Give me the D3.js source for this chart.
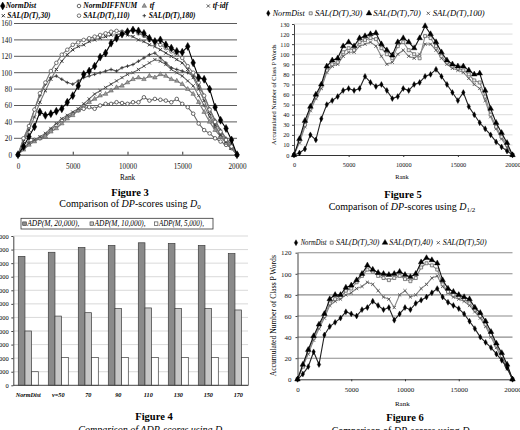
<!DOCTYPE html>
<html>
<head>
<meta charset="utf-8">
<script src="https://cdn.jsdelivr.net/npm/d3@7"></script>
<style>
  html, body { margin: 0; padding: 0; background: #fff; }
  svg { display: block; }
</style>
</head>
<body>
<svg id="page" width="520" height="430"></svg>
<script>
// ---------- data ----------
const RANKS = [0,500,1000,1500,2000,2500,3000,3500,4000,4500,5000,5500,6000,6500,7000,7500,8000,8500,9000,9500,
  10000,10500,11000,11500,12000,12500,13000,13500,14000,14500,15000,15500,16000,16500,17000,17500,18000,18500,19000,19500,20000];

// Figure 3 (D0)
const F3_NORMDIST    = [0,10,22,34,52,48,50,53,56,64,72,84,98,102,108,119,124,136,142,147,150,152,151,148,142,138,140,134,130,126,125,132,112,94,92,80,58,42,32,18,0];
const F3_NORMDIFFNUM = [0,8,14,18,20,24,30,36,42,46,50,54,56,58,56,60,62,62,64,63,62,64,64,70,66,68,67,66,64,68,62,58,50,38,30,26,20,16,12,8,0];
const F3_TF          = [0,6,12,16,20,22,28,32,38,44,48,54,60,64,68,72,74,78,82,84,88,92,94,92,96,94,98,96,92,90,86,80,74,64,52,40,30,22,14,8,0];
const F3_TFIDF       = [0,8,14,18,22,26,32,38,44,48,52,56,62,68,74,78,82,86,90,94,98,100,104,108,112,116,114,110,104,100,96,90,84,72,60,46,34,24,16,8,0];
const F3_SAL30       = [0,16,30,46,64,78,92,104,114,122,128,132,134,138,140,142,144,146,146,148,146,144,140,138,134,132,128,124,120,116,112,104,94,80,66,50,36,24,16,8,0];
const F3_SAL110      = [0,20,35,55,75,88,102,112,122,128,134,137,140,142,144,146,148,150,151,150,150,152,148,145,140,138,134,130,126,122,118,108,100,88,72,55,40,28,18,10,0];
const F3_SAL180      = [0,18,35,55,72,86,94,96,92,88,86,90,94,96,98,100,102,104,102,106,108,110,114,118,122,124,118,112,106,104,102,100,96,84,72,56,42,30,20,12,0];

// Figure 5 (D1/2)
const F5_NORMDIST = [0,2,6,20,15,36,50,54,58,64,66,64,66,78,72,68,70,64,56,58,66,64,70,72,78,80,85,78,70,62,54,62,48,40,32,26,20,13,8,4,0];
const F5_SAL30    = [0,14,30,46,58,68,84,90,92,102,106,104,112,114,116,115,106,100,96,108,112,104,100,96,118,116,108,98,92,88,86,84,80,74,72,58,40,28,18,10,0];
const F5_SAL70    = [0,16,34,48,60,70,88,94,96,108,112,108,116,118,120,121,110,104,99,112,116,112,106,116,128,120,112,102,94,90,88,88,84,80,81,64,46,32,22,12,0];
const F5_SAL100   = [0,12,28,44,56,66,82,88,90,98,102,102,108,110,112,108,98,90,92,100,104,98,96,100,110,110,104,96,90,86,84,82,76,70,66,54,38,26,16,8,0];

// Figure 6 (D1/4)
const F6_NORMDIST = [0,5,12,26,14,42,50,54,58,64,62,60,66,68,74,70,66,68,56,62,68,66,72,75,78,82,86,78,73,70,67,62,55,48,40,35,30,24,18,11,0];
const F6_SAL30    = [0,12,26,39,50,60,72,76,78,84,86,92,98,104,102,98,96,94,96,98,95,93,96,106,110,108,104,90,83,80,78,76,72,66,60,52,42,32,22,12,0];
const F6_SAL40    = [0,14,28,41,52,62,76,80,80,87,89,94,100,108,104,101,100,99,100,102,99,97,100,111,115,113,110,94,86,83,80,78,76,68,63,55,45,34,25,14,0];
const F6_SAL50    = [0,12,24,37,48,58,70,74,76,80,82,86,88,92,90,84,78,76,68,80,84,78,80,86,90,96,98,88,82,78,76,74,70,64,58,50,40,30,20,10,0];

// Figure 4 (ADP bars)
const F4_CATS   = ["NormDist","v=50","70","90","110","130","150","170"];
const ADP_20000 = [9500,9800,10150,10300,10500,10450,10300,9700];
const ADP_10000 = [4000,5100,5350,5650,5700,5650,5650,5550];
const ADP_5000  = [1000,2050,2050,2050,2050,2050,2050,2050];
const F4_TICKS  = [0,1000,2000,3000,4000,5000,6000,7000,8000,9000,10000,11000];

// ---------- helpers ----------
const SERIF = "'Liberation Serif','Times New Roman',serif";
const svg = d3.select("#page").attr("font-family", SERIF);
svg.append("rect").attr("width", 520).attr("height", 430).attr("fill", "#fff");

// stroke-only symbols (own versions so they work on any v7 build)
const symTimes = { draw(p, size) { const r = Math.sqrt(size) / 2; p.moveTo(-r, -r); p.lineTo(r, r); p.moveTo(r, -r); p.lineTo(-r, r); } };
const symPlus  = { draw(p, size) { const r = Math.sqrt(size) / 2; p.moveTo(-r, 0); p.lineTo(r, 0); p.moveTo(0, -r); p.lineTo(0, r); } };

function marker(g, s, cx, cy) {
  return g.append("path")
    .attr("transform", `translate(${cx},${cy})`)
    .attr("d", d3.symbol(s.type, s.size)())
    .attr("fill", s.fill)
    .attr("stroke", s.stroke)
    .attr("stroke-width", s.sw);
}

// caption: "Comparison of <i>DP</i>-scores using <i>D</i><sub>..</sub>"
function caption(cx, y, pre, ital, sub, allItalic) {
  const t = svg.append("text")
    .attr("x", cx).attr("y", y)
    .attr("text-anchor", "middle")
    .attr("font-size", 10)
    .attr("font-style", allItalic ? "italic" : null);
  t.append("tspan").text(pre);
  t.append("tspan").attr("font-style", "italic").text(ital);
  t.append("tspan").text("-scores using ");
  t.append("tspan").attr("font-style", "italic").text("D");
  t.append("tspan").attr("font-size", 7).attr("dy", 2).text(sub);
}

function figTitle(cx, y, label) {
  svg.append("text")
    .attr("x", cx).attr("y", y)
    .attr("text-anchor", "middle")
    .attr("font-size", 10.5)
    .attr("font-weight", 700)
    .text(label);
}

// ---------- scatter panels (figures 3, 5, 6) ----------
function scatterPanel(cfg) {
  const g = svg.append("g");
  const x = d3.scaleLinear().domain([0, 20000]).range(cfg.xRange);
  const y = d3.scaleLinear().domain([0, cfg.yMax]).range(cfg.yRange);
  const yTicks = d3.range(0, cfg.yMax + 1, cfg.yStep);

  // horizontal grid
  g.append("g").selectAll("line")
    .data(yTicks.filter(d => d > 0))
    .join("line")
    .attr("x1", cfg.gridX0).attr("x2", cfg.xRange[1])
    .attr("y1", d => y(d)).attr("y2", d => y(d))
    .attr("stroke", cfg.gridColor)
    .attr("stroke-width", cfg.gridWidth);

  // y axis
  const ya = g.append("g")
    .attr("transform", `translate(${cfg.xRange[0]},0)`)
    .call(d3.axisLeft(y).tickValues(yTicks).tickSize(cfg.yTickSize).tickPadding(cfg.yPad).tickSizeOuter(0));
  ya.attr("font-family", SERIF).attr("font-size", cfg.tickFont);
  ya.select(".domain").attr("stroke", cfg.yAxisColor);
  ya.selectAll(".tick line").attr("stroke", cfg.yAxisColor);
  ya.selectAll(".tick text").attr("fill", "#111");

  // x axis
  const xa = g.append("g")
    .attr("transform", `translate(0,${cfg.yRange[0]})`)
    .call(d3.axisBottom(x).tickValues([0, 5000, 10000, 15000, 20000])
      .tickSizeInner(cfg.xTickSize).tickSizeOuter(0).tickPadding(cfg.xPad).tickFormat(d3.format("d")));
  xa.attr("font-family", SERIF).attr("font-size", cfg.tickFont);
  xa.select(".domain").attr("stroke", "#333");
  xa.selectAll(".tick line").attr("stroke", "#333");
  xa.selectAll(".tick text").attr("fill", "#111");

  g.append("text")
    .attr("x", cfg.rank[0]).attr("y", cfg.rank[1])
    .attr("text-anchor", "middle")
    .attr("font-size", cfg.tickFont)
    .text("Rank");

  if (cfg.yTitle) {
    g.append("text")
      .attr("transform", `translate(${cfg.yTitle[0]},${cfg.yTitle[1]}) rotate(-90)`)
      .attr("text-anchor", "middle")
      .attr("font-size", cfg.yTitle[2])
      .text("Accumulated Number of Class P Words");
  }

  // series: thin trace + markers
  const line = d3.line().x((d, i) => x(RANKS[i])).y(d => y(d));
  cfg.series.forEach(s => {
    g.append("path")
      .datum(s.values)
      .attr("d", line)
      .attr("fill", "none")
      .attr("stroke", s.trace)
      .attr("stroke-width", 1.1);
    g.append("g").selectAll("path")
      .data(s.values)
      .join("path")
      .attr("transform", (d, i) => `translate(${x(RANKS[i])},${y(d)})`)
      .attr("d", d3.symbol(s.type, s.size))
      .attr("fill", s.fill)
      .attr("stroke", s.stroke)
      .attr("stroke-width", s.sw);
  });

  // legend
  cfg.legend.forEach(l => {
    const s = cfg.series.find(d => d.name === l.name);
    marker(svg, s, l.mx, l.my);
    svg.append("text")
      .attr("x", l.tx).attr("y", l.my + cfg.legendFont * 0.33)
      .attr("font-size", cfg.legendFont)
      .attr("font-style", "italic")
      .attr("font-weight", cfg.legendBold ? 700 : null)
      .attr("textLength", l.tl || null)
      .attr("lengthAdjust", l.tl ? "spacingAndGlyphs" : null)
      .text(l.name);
  });
}

// Figure 3
scatterPanel({
  xRange: [18, 237], yRange: [154.7, 23.5], yMax: 160, yStep: 20,
  gridX0: 14, gridColor: "#5a5a5a", gridWidth: 1,
  yTickSize: 0, yPad: 6, yAxisColor: "none",
  xTickSize: -3, xPad: 9.3, tickFont: 7.2,
  rank: [127.5, 179.5],
  legendFont: 7.5, legendBold: true,
  series: [
    { name: "NormDIFFNUM",   values: F3_NORMDIFFNUM, type: d3.symbolCircle,  size: 10, fill: "#fff",  stroke: "#444", sw: 0.8, trace: "#666" },
    { name: "tf",            values: F3_TF,          type: d3.symbolTriangle, size: 9, fill: "#999",  stroke: "#555", sw: 0.5, trace: "#777" },
    { name: "tf-idf",        values: F3_TFIDF,       type: symTimes,        size: 10, fill: "none",  stroke: "#444", sw: 0.9, trace: "#777" },
    { name: "SAL(D(T),180)", values: F3_SAL180,      type: symPlus,         size: 12, fill: "none",  stroke: "#333", sw: 0.9, trace: "#666" },
    { name: "SAL(D(T),30)",  values: F3_SAL30,       type: symTimes,        size: 10, fill: "none",  stroke: "#333", sw: 1,   trace: "#777" },
    { name: "SAL(D(T),110)", values: F3_SAL110,      type: d3.symbolCircle, size: 10, fill: "#fff",  stroke: "#555", sw: 0.8, trace: "#777" },
    { name: "NormDist",      values: F3_NORMDIST,    type: d3.symbolDiamond, size: 18, fill: "#000", stroke: "#000", sw: 0.5, trace: "#000" }
  ],
  legend: [
    { name: "NormDist",      mx: 2.7,   my: 6,    tx: 5.7 },
    { name: "NormDIFFNUM",   mx: 79,    my: 6,    tx: 83.3 },
    { name: "tf",            mx: 144.3, my: 6,    tx: 149.7 },
    { name: "tf-idf",        mx: 208.3, my: 6,    tx: 212.7 },
    { name: "SAL(D(T),30)",  mx: 3.3,   my: 15.7, tx: 7.3 },
    { name: "SAL(D(T),110)", mx: 79,    my: 15.7, tx: 83.3 },
    { name: "SAL(D(T),180)", mx: 144.3, my: 15.7, tx: 148.7 }
  ]
});
figTitle(130, 196.3, "Figure 3");
caption(130, 206.5, "Comparison of ", "DP", "0", false);

// Figure 5
scatterPanel({
  xRange: [294, 512.5], yRange: [155, 24], yMax: 130, yStep: 10,
  gridX0: 294, gridColor: "#d2d2d2", gridWidth: 0.8,
  yTickSize: 2, yPad: 2.5, yAxisColor: "#444",
  xTickSize: 2, xPad: 6, tickFont: 6.3,
  rank: [402, 178.5],
  yTitle: [275.5, 94.7, 6.3],
  legendFont: 8.3, legendBold: false,
  series: [
    { name: "SAL(D(T),100)", values: F5_SAL100,   type: symTimes,          size: 10, fill: "none", stroke: "#555", sw: 0.9, trace: "#888" },
    { name: "SAL(D(T),30)",  values: F5_SAL30,    type: d3.symbolSquare,   size: 9,  fill: "#eee", stroke: "#555", sw: 0.7, trace: "#888" },
    { name: "SAL(D(T),70)",  values: F5_SAL70,    type: d3.symbolTriangle, size: 14, fill: "#000", stroke: "#000", sw: 0.4, trace: "#111" },
    { name: "NormDist",      values: F5_NORMDIST, type: d3.symbolDiamond,  size: 10, fill: "#000", stroke: "#000", sw: 0.4, trace: "#222" }
  ],
  legend: [
    { name: "NormDist",      mx: 268.3, my: 13.3, tx: 272.7, tl: 32 },
    { name: "SAL(D(T),30)",  mx: 310.7, my: 13.3, tx: 315,   tl: 47.5 },
    { name: "SAL(D(T),70)",  mx: 369,   my: 13.3, tx: 373.3, tl: 47.5 },
    { name: "SAL(D(T),100)", mx: 428.3, my: 13.3, tx: 432.7, tl: 52 }
  ]
});
figTitle(403, 198.3, "Figure 5");
caption(402, 209.5, "Comparison of ", "DP", "1/2", false);

// Figure 6
scatterPanel({
  xRange: [297.5, 512.5], yRange: [379.3, 252.7], yMax: 120, yStep: 20,
  gridX0: 297.5, gridColor: "#8c8c8c", gridWidth: 1.1,
  yTickSize: 2, yPad: 4, yAxisColor: "#444",
  xTickSize: 2, xPad: 6, tickFont: 7,
  rank: [402.3, 405.5],
  yTitle: [276, 315.7, 7.6],
  legendFont: 7.6, legendBold: false,
  series: [
    { name: "SAL(D(T),50)", values: F6_SAL50,    type: symTimes,          size: 10, fill: "none", stroke: "#555", sw: 0.9, trace: "#888" },
    { name: "SAL(D(T),30)", values: F6_SAL30,    type: d3.symbolSquare,   size: 9,  fill: "#eee", stroke: "#555", sw: 0.7, trace: "#888" },
    { name: "SAL(D(T),40)", values: F6_SAL40,    type: d3.symbolTriangle, size: 14, fill: "#000", stroke: "#000", sw: 0.4, trace: "#111" },
    { name: "NormDist",     values: F6_NORMDIST, type: d3.symbolDiamond,  size: 10, fill: "#000", stroke: "#000", sw: 0.4, trace: "#222" }
  ],
  legend: [
    { name: "NormDist",     mx: 296,   my: 242.7, tx: 300.7, tl: 26 },
    { name: "SAL(D(T),30)", mx: 331.7, my: 242.7, tx: 336,   tl: 43.5 },
    { name: "SAL(D(T),40)", mx: 385,   my: 242.7, tx: 389.3, tl: 43.5 },
    { name: "SAL(D(T),50)", mx: 438.3, my: 242.7, tx: 442.7, tl: 44 }
  ]
});
figTitle(405, 420.5, "Figure 6");
caption(405, 433.5, "Comparison of ", "DP", "1/4", false);

// ---------- Figure 4: grouped bars ----------
(function barPanel() {
  const g = svg.append("g");
  const keys = ["ADP(M, 20,000),", "ADP(M, 10,000),", "ADP(M, 5,000),"];
  const keyLen = [52, 51, 45];
  const cols = ["#8a8a8a", "#c6c6c6", "#ffffff"];
  const rows = F4_CATS.map((c, i) => ({ cat: c, vals: [ADP_20000[i], ADP_10000[i], ADP_5000[i]] }));

  const x0 = d3.scaleBand().domain(F4_CATS).range([13.3, 253.3]).paddingInner(1 / 3).paddingOuter(1 / 6);
  const x1 = d3.scaleBand().domain(d3.range(keys.length)).range([0, x0.bandwidth()]);
  const y = d3.scaleLinear().domain([0, 11000]).range([385.3, 236]);

  g.append("g").selectAll("line")
    .data(F4_TICKS.filter(d => d > 0))
    .join("line")
    .attr("x1", 13.3).attr("x2", 248)
    .attr("y1", d => y(d)).attr("y2", d => y(d))
    .attr("stroke", "#cfcfcf").attr("stroke-width", 0.8);

  const ya = g.append("g")
    .attr("transform", "translate(13.3,0)")
    .call(d3.axisLeft(y).tickValues(F4_TICKS).tickSize(2).tickPadding(2.5).tickSizeOuter(0).tickFormat(d3.format("d")));
  ya.attr("font-family", SERIF).attr("font-size", 6.5);
  ya.select(".domain").attr("stroke", "#444");
  ya.selectAll(".tick line").attr("stroke", "#444");

  const grp = g.append("g").selectAll("g")
    .data(rows)
    .join("g")
    .attr("transform", d => `translate(${x0(d.cat)},0)`);
  grp.selectAll("rect")
    .data(d => d.vals)
    .join("rect")
    .attr("x", (d, i) => x1(i))
    .attr("y", d => y(d))
    .attr("width", x1.bandwidth())
    .attr("height", d => y(0) - y(d))
    .attr("fill", (d, i) => cols[i])
    .attr("stroke", "#3c3c3c")
    .attr("stroke-width", 0.7);

  g.append("line")
    .attr("x1", 13.3).attr("x2", 248)
    .attr("y1", y(0)).attr("y2", y(0))
    .attr("stroke", "#444");

  g.append("g").selectAll("text")
    .data(F4_CATS)
    .join("text")
    .attr("x", d => x0(d) + x0.bandwidth() / 2)
    .attr("y", 397)
    .attr("text-anchor", "middle")
    .attr("font-size", 6.2)
    .attr("font-style", "italic")
    .attr("font-weight", 700)
    .text(d => d);

  // legend box
  g.append("rect")
    .attr("x", 21).attr("y", 218.3).attr("width", 192).attr("height", 10.7)
    .attr("fill", "#fff").attr("stroke", "#333").attr("stroke-width", 0.8);
  const lx = [22.7, 90, 154.3];
  keys.forEach((k, i) => {
    g.append("rect")
      .attr("x", lx[i]).attr("y", 221.9).attr("width", 3.6).attr("height", 3.6)
      .attr("fill", cols[i]).attr("stroke", "#333").attr("stroke-width", 0.6);
    g.append("text")
      .attr("x", lx[i] + 4.6).attr("y", 226.2)
      .attr("font-size", 7.3)
      .attr("font-style", "italic")
      .attr("textLength", keyLen[i])
      .attr("lengthAdjust", "spacingAndGlyphs")
      .text(k);
  });
})();
figTitle(154, 420, "Figure 4");
caption(152, 433, "Comparison of ", "ADP", "0", true);
</script>
</body>
</html>
